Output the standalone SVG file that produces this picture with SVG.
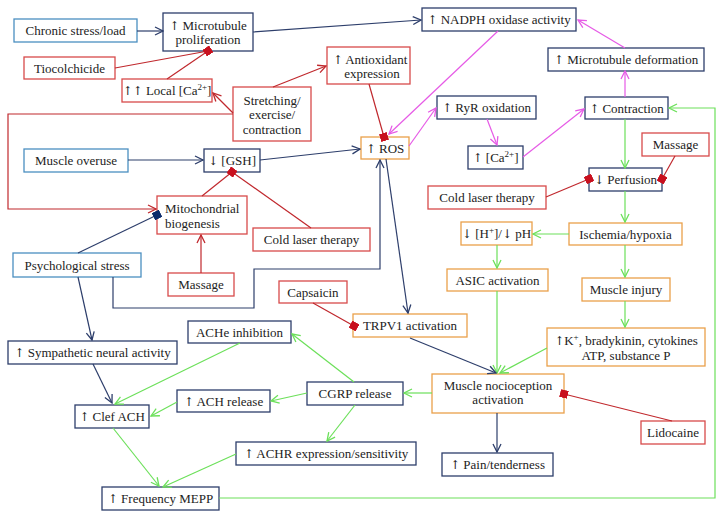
<svg xmlns="http://www.w3.org/2000/svg" width="725" height="519" viewBox="0 0 725 519">
<style>
rect.b{fill:#fff;stroke-width:1.3}
.nv{stroke:#2d3e6b}
.lb{stroke:#4b8fc1}
.rd{stroke:#d84a4a}
.or{stroke:#eaa04a}
text{font-family:"Liberation Serif","Times New Roman",serif;font-size:13px;fill:#222;text-anchor:middle}
text.l{text-anchor:start}
.a{font-family:"DejaVu Serif","Liberation Serif",serif;font-size:12px;fill:#222}
.sup{font-size:9px}
#conn path,#conn line,#conn polyline{fill:none;stroke-width:1.2}
.cn{stroke:#2d3e6b}
.cr{stroke:#c0282d}
.cg{stroke:#6ce05a}
.cm{stroke:#e65ae6}
</style>
<defs>
<marker id="an" markerUnits="userSpaceOnUse" markerWidth="10" markerHeight="10" viewBox="0 0 10 10" refX="9" refY="5" orient="auto"><path d="M1,1 L9,5 L1,9" fill="none" stroke="#2d3e6b" stroke-width="1.3"/></marker>
<marker id="ar" markerUnits="userSpaceOnUse" markerWidth="10" markerHeight="10" viewBox="0 0 10 10" refX="9" refY="5" orient="auto"><path d="M1,1 L9,5 L1,9" fill="none" stroke="#c0282d" stroke-width="1.3"/></marker>
<marker id="ag" markerUnits="userSpaceOnUse" markerWidth="10" markerHeight="10" viewBox="0 0 10 10" refX="9" refY="5" orient="auto"><path d="M1,1 L9,5 L1,9" fill="none" stroke="#6ce05a" stroke-width="1.3"/></marker>
<marker id="am" markerUnits="userSpaceOnUse" markerWidth="10" markerHeight="10" viewBox="0 0 10 10" refX="9" refY="5" orient="auto"><path d="M1,1 L9,5 L1,9" fill="none" stroke="#e65ae6" stroke-width="1.3"/></marker>
<marker id="dr" markerUnits="userSpaceOnUse" markerWidth="8" markerHeight="8" viewBox="0 0 8 8" refX="4" refY="4" orient="auto"><rect x="0" y="0" width="8" height="8" fill="#c8101e"/></marker>
<marker id="dn" markerUnits="userSpaceOnUse" markerWidth="8" markerHeight="8" viewBox="0 0 8 8" refX="4" refY="4" orient="auto"><rect x="0" y="0" width="8" height="8" fill="#0b2a6b"/></marker>
</defs>
<rect width="725" height="519" fill="#fff"/>
<g id="chronic"><rect class="b lb" x="14" y="19" width="123" height="23"/><text x="75.5" y="35">Chronic stress/load</text></g>
<g id="mtprolif"><rect class="b nv" x="163" y="13" width="90" height="38"/><text x="208" y="29.5"><tspan class="a">↑</tspan> Microtubule</text><text x="208" y="44">proliferation</text></g>
<g id="tiocolchicide"><rect class="b rd" x="24" y="57" width="91" height="22"/><text x="69.5" y="72.5">Tiocolchicide</text></g>
<g id="localca"><rect class="b rd" x="122" y="79" width="90" height="23"/><text x="167" y="95"><tspan class="a">↑↑</tspan> Local [Ca<tspan class="sup" dy="-5">2+</tspan><tspan dy="5">]</tspan></text></g>
<g id="stretching"><rect class="b rd" x="233" y="87" width="78" height="54"/><text x="272" y="104.5">Stretching/</text><text x="272" y="119">exercise/</text><text x="272" y="133.5">contraction</text></g>
<g id="antioxidant"><rect class="b rd" x="327" y="47" width="83" height="37"/><text x="370" y="63.5"><tspan class="a">↑</tspan> Antioxidant</text><text x="372" y="77.5">expression</text></g>
<g id="nadph"><rect class="b nv" x="422" y="8" width="154" height="23"/><text x="499" y="24"><tspan class="a">↑</tspan> NADPH oxidase activity</text></g>
<g id="mtdeform"><rect class="b nv" x="548" y="48" width="156" height="23"/><text x="626" y="64"><tspan class="a">↑</tspan> Microtubule deformation</text></g>
<g id="overuse"><rect class="b lb" x="24" y="149" width="104" height="23"/><text x="76" y="165">Muscle overuse</text></g>
<g id="gsh"><rect class="b nv" x="204" y="149" width="56" height="23"/><text x="232" y="165"><tspan class="a">↓</tspan> [GSH]</text></g>
<g id="ros"><rect class="b or" x="361" y="137" width="48" height="22"/><text x="385" y="152.5"><tspan class="a">↑</tspan> ROS</text></g>
<g id="ryr"><rect class="b nv" x="437" y="96" width="99" height="23"/><text x="486.5" y="112"><tspan class="a">↑</tspan> RyR oxidation</text></g>
<g id="ca"><rect class="b nv" x="468" y="146" width="55" height="23"/><text x="495.5" y="162"><tspan class="a">↑</tspan> [Ca<tspan class="sup" dy="-5">2+</tspan><tspan dy="5">]</tspan></text></g>
<g id="contraction"><rect class="b nv" x="585" y="97" width="83" height="22"/><text x="626.5" y="112.5"><tspan class="a">↑</tspan> Contraction</text></g>
<g id="massage-r"><rect class="b rd" x="642" y="133" width="67" height="23"/><text x="675.5" y="149">Massage</text></g>
<g id="perfusion"><rect class="b nv" x="589" y="168" width="73" height="23"/><text x="625.5" y="184"><tspan class="a">↓</tspan> Perfusion</text></g>
<g id="coldlaser-r"><rect class="b rd" x="428" y="186" width="118" height="23"/><text x="487" y="202">Cold laser therapy</text></g>
<g id="mito"><rect class="b rd" x="157" y="196" width="90" height="38"/><text class="l" x="165" y="213">Mitochondrial</text><text class="l" x="165" y="227.5">biogenesis</text></g>
<g id="coldlaser-l"><rect class="b rd" x="253" y="228" width="117" height="23"/><text x="311.5" y="244">Cold laser therapy</text></g>
<g id="ischemia"><rect class="b or" x="569" y="223" width="113" height="22"/><text x="625.5" y="238.5">Ischemia/hypoxia</text></g>
<g id="hph"><rect class="b or" x="461" y="222" width="71" height="23"/><text x="496.5" y="238"><tspan class="a">↓</tspan> [H<tspan class="sup" dy="-5">+</tspan><tspan dy="5">]/</tspan><tspan class="a">↓</tspan> pH</text></g>
<g id="psych"><rect class="b lb" x="13" y="253" width="128" height="24"/><text x="77" y="269.5">Psychological stress</text></g>
<g id="asic"><rect class="b or" x="447" y="269" width="101" height="22"/><text x="497.5" y="284.5">ASIC activation</text></g>
<g id="massage-l"><rect class="b rd" x="168" y="273" width="66" height="23"/><text x="201" y="289">Massage</text></g>
<g id="injury"><rect class="b or" x="582" y="278" width="88" height="23"/><text x="626" y="294">Muscle injury</text></g>
<g id="capsaicin"><rect class="b rd" x="279" y="281" width="68" height="22"/><text x="313" y="296.5">Capsaicin</text></g>
<g id="trpv1"><rect class="b or" x="353" y="314" width="114" height="23"/><text x="410" y="330">TRPV1 activation</text></g>
<g id="achei"><rect class="b nv" x="188" y="321" width="103" height="22"/><text x="239.5" y="336.5">ACHe inhibition</text></g>
<g id="kplus"><rect class="b or" x="547" y="328" width="158" height="38"/><text x="626" y="344.5"><tspan class="a">↑</tspan>K<tspan class="sup" dy="-5">+</tspan><tspan dy="5">, bradykinin, cytokines</tspan></text><text x="626" y="359.5">ATP, substance P</text></g>
<g id="sympathetic"><rect class="b nv" x="8" y="341" width="169" height="23"/><text x="92.5" y="357"><tspan class="a">↑</tspan> Sympathetic neural activity</text></g>
<g id="nociception"><rect class="b or" x="432" y="374" width="132" height="39"/><text x="498" y="389.5">Muscle nocioception</text><text x="498" y="404">activation</text></g>
<g id="cgrp"><rect class="b nv" x="307" y="382" width="96" height="23"/><text x="355" y="398">CGRP release</text></g>
<g id="achrelease"><rect class="b nv" x="177" y="390" width="93" height="22"/><text x="223.5" y="405.5"><tspan class="a">↑</tspan> ACH release</text></g>
<g id="clefach"><rect class="b nv" x="75" y="405" width="74" height="23"/><text x="112" y="421"><tspan class="a">↑</tspan> Clef ACH</text></g>
<g id="lidocaine"><rect class="b rd" x="641" y="421" width="64" height="23"/><text x="673" y="437">Lidocaine</text></g>
<g id="achr"><rect class="b nv" x="236" y="442" width="180" height="23"/><text x="326" y="458"><tspan class="a">↑</tspan> ACHR expression/sensitivity</text></g>
<g id="pain"><rect class="b nv" x="442" y="453" width="111" height="23"/><text x="497.5" y="469"><tspan class="a">↑</tspan> Pain/tenderness</text></g>
<g id="mepp"><rect class="b nv" x="102" y="487" width="117" height="23"/><text x="160.5" y="503"><tspan class="a">↑</tspan> Frequency MEPP</text></g>
<g id="conn">
<line class="cn" x1="137" y1="31" x2="163" y2="31" marker-end="url(#an)"/>
<line class="cn" x1="253" y1="32" x2="421" y2="20" marker-end="url(#an)"/>
<line class="cr" x1="115" y1="68" x2="208" y2="51"/>
<line class="cr" x1="167" y1="79" x2="208" y2="51" marker-end="url(#dr)"/>
<line class="cr" x1="233" y1="113" x2="213" y2="93" marker-end="url(#ar)"/>
<polyline class="cr" points="233,114 8,114 8,209 156,209" marker-end="url(#ar)"/>
<line class="cr" x1="273" y1="87" x2="326" y2="66" marker-end="url(#ar)"/>
<line class="cr" x1="369" y1="84" x2="384" y2="137" marker-end="url(#dr)"/>
<line class="cm" x1="498" y1="31" x2="389" y2="134" marker-end="url(#am)"/>
<line class="cm" x1="625" y1="48" x2="578" y2="20" marker-end="url(#am)"/>
<line class="cm" x1="625" y1="97" x2="625" y2="71" marker-end="url(#am)"/>
<line class="cm" x1="409" y1="146" x2="436" y2="108" marker-end="url(#am)"/>
<line class="cm" x1="487" y1="119" x2="497" y2="145" marker-end="url(#am)"/>
<line class="cm" x1="523" y1="157" x2="584" y2="109" marker-end="url(#am)"/>
<line class="cg" x1="625" y1="119" x2="625" y2="168" marker-end="url(#ag)"/>
<line class="cr" x1="675" y1="156" x2="662" y2="179" marker-end="url(#dr)"/>
<line class="cr" x1="546" y1="197" x2="589" y2="179" marker-end="url(#dr)"/>
<line class="cg" x1="625" y1="191" x2="625" y2="222" marker-end="url(#ag)"/>
<line class="cg" x1="569" y1="234" x2="533" y2="234" marker-end="url(#ag)"/>
<line class="cg" x1="497" y1="245" x2="497" y2="268" marker-end="url(#ag)"/>
<line class="cg" x1="625" y1="245" x2="625" y2="277" marker-end="url(#ag)"/>
<line class="cg" x1="625" y1="301" x2="625" y2="327" marker-end="url(#ag)"/>
<line class="cg" x1="547" y1="348" x2="500" y2="373" marker-end="url(#ag)"/>
<line class="cg" x1="497" y1="291" x2="497" y2="373" marker-end="url(#ag)"/>
<line class="cn" x1="410" y1="338" x2="496" y2="373" marker-end="url(#an)"/>
<line class="cn" x1="386" y1="159" x2="408" y2="313" marker-end="url(#an)"/>
<polyline class="cn" points="113,277 113,308 254,308 254,269 380,269 380,160" marker-end="url(#an)"/>
<line class="cn" x1="78" y1="253" x2="157" y2="215" marker-end="url(#dn)"/>
<line class="cn" x1="78" y1="277" x2="92" y2="340" marker-end="url(#an)"/>
<line class="cn" x1="260" y1="160" x2="360" y2="149" marker-end="url(#an)"/>
<line class="cn" x1="128" y1="160" x2="203" y2="160" marker-end="url(#an)"/>
<line class="cr" x1="202" y1="196" x2="232" y2="172"/>
<line class="cr" x1="311" y1="228" x2="232" y2="172" marker-end="url(#dr)"/>
<line class="cr" x1="201" y1="273" x2="201" y2="235" marker-end="url(#ar)"/>
<line class="cr" x1="313" y1="303" x2="354" y2="326" marker-end="url(#dr)"/>
<line class="cr" x1="672" y1="421" x2="564" y2="394" marker-end="url(#dr)"/>
<line class="cn" x1="497" y1="413" x2="497" y2="452" marker-end="url(#an)"/>
<line class="cg" x1="432" y1="393" x2="404" y2="393" marker-end="url(#ag)"/>
<line class="cg" x1="354" y1="382" x2="292" y2="334" marker-end="url(#ag)"/>
<line class="cg" x1="307" y1="393" x2="271" y2="401" marker-end="url(#ag)"/>
<line class="cg" x1="355" y1="405" x2="327" y2="441" marker-end="url(#ag)"/>
<line class="cg" x1="240" y1="343" x2="115" y2="404" marker-end="url(#ag)"/>
<line class="cg" x1="177" y1="402" x2="151" y2="416" marker-end="url(#ag)"/>
<line class="cn" x1="93" y1="364" x2="112" y2="403" marker-end="url(#an)"/>
<line class="cg" x1="113" y1="428" x2="159" y2="486" marker-end="url(#ag)"/>
<line class="cg" x1="236" y1="454" x2="163" y2="487" marker-end="url(#ag)"/>
<polyline class="cg" points="219,498 715,498 715,108 669,108" marker-end="url(#ag)"/>
</g>
</svg>
